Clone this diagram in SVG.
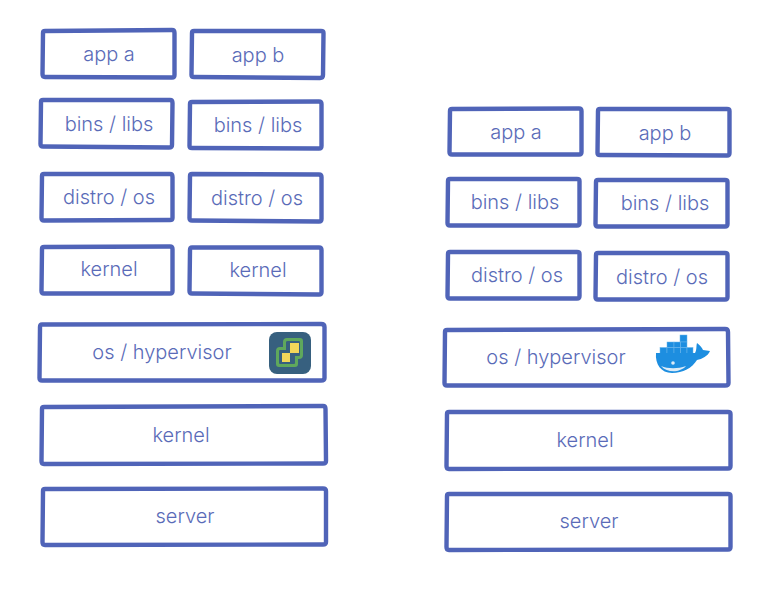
<svg xmlns="http://www.w3.org/2000/svg" width="779" height="600" viewBox="0 0 779 600">
<style>
.b{fill:none;stroke:#5064b8;stroke-width:4.4;stroke-linejoin:round;stroke-linecap:round}
text{font-family:"Inter","Noto Sans",sans-serif;font-size:20px;fill:#5a6bb8;text-anchor:middle;font-weight:300}
.c{fill:#1d8ee0;stroke:#6db6ec;stroke-width:.5}
</style>
<rect width="779" height="600" fill="#fff"/>
<g id="l-app-a"><path class="b" d="M45 31 L172 30 Q174.500 30 174.500 33 L174.500 75 Q174.500 77.500 172 77.500 L45 77 Q42.500 77 42.500 74 L43 33 Q43 31 45 31 Z"/><text x="109" y="61">app a</text></g>
<g id="l-app-b"><path class="b" d="M194 31 L321 31 Q323.500 31 323.500 33 L323 75 Q323 78 320 78 L194 77 Q191.500 77 191.500 75 L192 33 Q192 31 194 31 Z"/><text x="258" y="62">app b</text></g>
<g id="l-bins-a"><path class="b" d="M43 100 L170 100 Q172.500 100 172.500 103 L172 145 Q172 147.500 169 147.500 L43 146.500 Q40.500 146.500 40.500 144 L41 102 Q41 100 43 100 Z"/><text x="109" y="131">bins / libs</text></g>
<g id="l-bins-b"><path class="b" d="M192 102 L319 101.500 Q321.500 101.500 321.500 104 L321.500 146 Q321.500 148.500 319 148.500 L192 148 Q189.500 148 189.500 146 L190 104 Q190 102 192 102 Z"/><text x="258" y="132">bins / libs</text></g>
<g id="l-distro-a"><path class="b" d="M44 174 L170 174 Q172.500 174 172.500 177 L172.500 218 Q172.500 220 170 220 L44 220.500 Q41.500 220.500 41.500 218 L42 176 Q42 174 44 174 Z"/><text x="109" y="204">distro / os</text></g>
<g id="l-distro-b"><path class="b" d="M192 174 L319 174.500 Q321.500 174.500 321.500 177 L321.500 219 Q321.500 221.500 319 221.500 L192 220.500 Q189.500 220.500 189.500 218 L190 176 Q190 174 192 174 Z"/><text x="257" y="205">distro / os</text></g>
<g id="l-kernel-a"><path class="b" d="M44 247 L170 246.500 Q172.500 246.500 172.500 249 L172.500 291 Q172.500 293.500 170 293.500 L44 293.500 Q41.500 293.500 41.500 291 L42 249 Q42 247 44 247 Z"/><text x="109" y="276">kernel</text></g>
<g id="l-kernel-b"><path class="b" d="M192 247.500 L319 247.500 Q321.500 247.500 321.500 250 L321.500 292 Q321.500 294.500 319 294.500 L192 293.500 Q189.500 293.500 189.500 291 L190 250 Q190 247.500 192 247.500 Z"/><text x="258" y="277">kernel</text></g>
<g id="l-os"><path class="b" d="M42 324.500 L321 324 Q324.500 324 324.500 327 L324.500 378 Q324.500 380.500 321 380.500 L42 380.500 Q39.500 380.500 39.500 378 L40 327 Q40 324.500 42 324.500 Z"/><text x="162" y="359">os / hypervisor</text>
<rect x="269" y="332" width="42" height="42" rx="8" fill="#37607f"/>
<path d="M287 338 L300 338 Q303 338 303 341 L303 355 Q303 359 299 359 L298 359 L298 364 Q298 367 295 367 L279 367 Q276 367 276 364 L276 351 Q276 347 280 347 L283 347 L283 342 Q283 338 287 338 Z" fill="#5fa85c"/>
<path d="M288 341 L299 341 Q300 341 300 342 L300 355 Q300 356 299 356 L295 356 L295 363 Q295 364 294 364 L280 364 Q279 364 279 363 L279 351 Q279 350 280 350 L286 350 L286 342 Q286 341 288 341 Z" fill="#37607f"/>
<rect x="290" y="343" width="9" height="10" fill="#f2d75a"/><rect x="282" y="353" width="8" height="9" fill="#f2d75a"/></g>
<g id="l-kernel"><path class="b" d="M44 407 L323 406 Q325.500 406 325.500 409 L326 461 Q326 463.500 323 463.500 L44 464 Q41.500 464 41.500 461 L42 409 Q42 407 44 407 Z"/><text x="181" y="442">kernel</text></g>
<g id="l-server"><path class="b" d="M45 489 L323 488.500 Q326 488.500 326 491 L326 542 Q326 544.500 323 544.500 L45 545 Q42.500 545 42.500 542 L43 491 Q43 489 45 489 Z"/><text x="185" y="523">server</text></g>
<g id="r-app-a"><path class="b" d="M452 109 L579 108.500 Q581.500 108.500 581.500 111 L581.500 152 Q581.500 154.500 579 154.500 L452 154.500 Q449.500 154.500 449.500 152 L450 111 Q450 109 452 109 Z"/><text x="516" y="139">app a</text></g>
<g id="r-app-b"><path class="b" d="M600 109 L727 109 Q729.500 109 729.500 111 L729.500 153 Q729.500 155.500 727 155.500 L600 155 Q597.500 155 597.500 153 L598 111 Q598 109 600 109 Z"/><text x="665" y="140">app b</text></g>
<g id="r-bins-a"><path class="b" d="M450 179 L577 179 Q579.500 179 579.500 181 L579.500 223 Q579.500 225.500 577 225.500 L450 225.500 Q447.500 225.500 447.500 223 L448 181 Q448 179 450 179 Z"/><text x="515" y="209">bins / libs</text></g>
<g id="r-bins-b"><path class="b" d="M598 180 L725 180 Q727.500 180 727.500 182 L727.500 224 Q727.500 226.500 725 226.500 L598 226.500 Q595.500 226.500 595.500 224 L596 182 Q596 180 598 180 Z"/><text x="665" y="210">bins / libs</text></g>
<g id="r-distro-a"><path class="b" d="M450 252 L577 252 Q579.500 252 579.500 254 L579.500 296 Q579.500 298.500 577 298.500 L450 298.500 Q447.500 298.500 447.500 296 L448 254 Q448 252 450 252 Z"/><text x="517" y="282">distro / os</text></g>
<g id="r-distro-b"><path class="b" d="M598 253 L725 253 Q727.500 253 727.500 255 L727.500 297 Q727.500 299.500 725 299.500 L598 299.500 Q595.500 299.500 595.500 297 L596 255 Q596 253 598 253 Z"/><text x="662" y="284">distro / os</text></g>
<g id="r-os"><path class="b" d="M447 330 L725 329 Q728 329 728 332 L728.500 383 Q728.500 385.500 725 385.500 L447 385.500 Q444.500 385.500 444.500 383 L445 332 Q445 330 447 330 Z"/><text x="556" y="364">os / hypervisor</text>
<rect class="c" x="680" y="335" width="7" height="7"/><rect class="c" x="667" y="342" width="7" height="5.500"/><rect class="c" x="674" y="342" width="6.500" height="5.500"/><rect class="c" x="680.500" y="342" width="6.500" height="5.500"/>
<rect class="c" x="660" y="347.500" width="7" height="6"/><rect class="c" x="667" y="347.500" width="7" height="6"/><rect class="c" x="674" y="347.500" width="6.500" height="6"/><rect class="c" x="680.500" y="347.500" width="6.500" height="6"/><rect class="c" x="687" y="347.500" width="6" height="6"/>
<path d="M656 353 L695 353 C697 350 696 346 697 343 C700 345 702 348 703 350 L710 351 C708 356 702 359 697 360 C692 368 683 373 672 373 C661 373 655 364 656 353 Z" fill="#1d8ee0"/>
<path d="M661 366 C668 369 678 369 686 366 C681 372 668 374 661 366 Z" fill="#dcebf7"/><circle cx="673" cy="363" r="1.800" fill="#dcebf7"/></g>
<g id="r-kernel"><path class="b" d="M449 412 L728 412 Q730.500 412 730.500 414 L730.500 466 Q730.500 468.500 728 468.500 L449 469 Q446.500 469 446.500 466 L447 414 Q447 412 449 412 Z"/><text x="585" y="447">kernel</text></g>
<g id="r-server"><path class="b" d="M449 494 L728 494 Q730.500 494 730.500 496 L730.500 547 Q730.500 549.500 728 549.500 L449 550 Q446.500 550 446.500 547 L447 496 Q447 494 449 494 Z"/><text x="589" y="528">server</text></g>
</svg>
